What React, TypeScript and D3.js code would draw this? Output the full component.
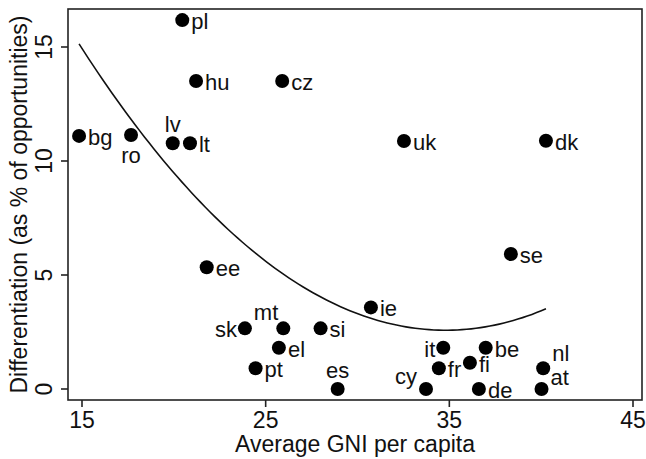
import React from "react";
import * as d3 from "d3";

const countries = ["bg","ro","lv","lt","pl","hu","cz","uk","dk","se","ee","sk","mt","el","pt","si","es","ie","cy","it","fr","fi","be","de","nl","at"];
const gni = [14.84,17.67,19.94,20.88,20.46,21.21,25.9,32.53,40.26,38.35,21.79,23.87,25.96,25.72,24.45,27.99,28.92,30.73,33.73,34.67,34.43,36.12,36.98,36.61,40.11,40.02];
const diff = [11.1,11.14,10.78,10.78,16.18,13.51,13.51,10.88,10.89,5.92,5.34,2.66,2.66,1.81,0.91,2.66,0,3.58,0,1.81,0.91,1.15,1.81,0,0.91,0];
const labelClock = [3,6,12,3,3,3,3,3,3,3,3,9,11,3,3,3,12,3,10,9,3,3,3,3,1,2];
const xTicks = [15,25,35,45];
const yTicks = [0,5,10,15];
const xTitle = "Average GNI per capita";
const yTitle = "Differentiation (as % of opportunities)";

function quadFit(xs: number[], ys: number[]) {
  // OLS y = b0 + b1 x + b2 x^2
  const n = xs.length;
  let s = [0, 0, 0, 0, 0];
  let t = [0, 0, 0];
  for (let i = 0; i < n; i++) {
    const x = xs[i], y = ys[i];
    for (let k = 0; k < 5; k++) s[k] += Math.pow(x, k);
    for (let k = 0; k < 3; k++) t[k] += y * Math.pow(x, k);
  }
  const A = [
    [s[0], s[1], s[2], t[0]],
    [s[1], s[2], s[3], t[1]],
    [s[2], s[3], s[4], t[2]],
  ];
  for (let c = 0; c < 3; c++) {
    let p = c;
    for (let r = c + 1; r < 3; r++) if (Math.abs(A[r][c]) > Math.abs(A[p][c])) p = r;
    [A[c], A[p]] = [A[p], A[c]];
    for (let r = 0; r < 3; r++) {
      if (r === c) continue;
      const f = A[r][c] / A[c][c];
      for (let k = c; k < 4; k++) A[r][k] -= f * A[c][k];
    }
  }
  return [A[0][3] / A[0][0], A[1][3] / A[1][1], A[2][3] / A[2][2]];
}

const W = 646, H = 459;
const L = 68, R = 642, T = 9, B = 400;

export default function App() {
  const x = d3.scaleLinear().domain([15, 45]).range([82, 633]);
  const y = d3.scaleLinear().domain([0, 15]).range([389, 47]);
  const [b0, b1, b2] = quadFit(gni, diff);
  const [xmin, xmax] = d3.extent(gni) as [number, number];
  const fitPts = d3.range(0, 101).map((i) => {
    const xv = xmin + ((xmax - xmin) * i) / 100;
    return [xv, b0 + b1 * xv + b2 * xv * xv] as [number, number];
  });
  const line = d3.line<[number, number]>().x((d) => x(d[0])).y((d) => y(d[1]));
  const font = "'Liberation Sans', Arial, Helvetica, sans-serif";
  const lab = (clock: number) => {
    switch (clock) {
      case 6: return { a: "middle", dx: 0, dy: 28 };
      case 12: return { a: "middle", dx: 0, dy: -11 };
      case 11: return { a: "end", dx: -5, dy: -8 };
      case 9: return { a: "end", dx: -8, dy: 9 };
      case 10: return { a: "end", dx: -9, dy: -5 };
      case 1: return { a: "start", dx: 9, dy: -7 };
      case 2: return { a: "start", dx: 9, dy: -4 };
      default: return { a: "start", dx: 9, dy: 9 };
    }
  };
  return (
    <svg width={W} height={H} style={{ position: "absolute", left: 0, top: 0, background: "#fff" }} fontFamily={font}>
      <rect x={0} y={0} width={W} height={H} fill="#fff" />
      <rect x={L} y={T} width={R - L} height={B - T} fill="none" stroke="#222" strokeWidth={1.6} />
      {xTicks.map((t) => (
        <g key={"x" + t}>
          <line x1={x(t)} x2={x(t)} y1={B} y2={B + 7} stroke="#222" strokeWidth={1.6} />
          <text x={x(t)} y={428} textAnchor="middle" fontSize={23} fill="#111">{t}</text>
        </g>
      ))}
      {yTicks.map((t) => (
        <g key={"y" + t}>
          <line x1={L - 7} x2={L} y1={y(t)} y2={y(t)} stroke="#222" strokeWidth={1.6} />
          <text transform={`translate(52,${y(t)}) rotate(-90)`} textAnchor="middle" fontSize={23} fill="#111">{t}</text>
        </g>
      ))}
      <text x={(L + R) / 2} y={452} textAnchor="middle" fontSize={23} fill="#111">{xTitle}</text>
      <text transform={`translate(27,${(T + B) / 2}) rotate(-90)`} textAnchor="middle" fontSize={23} fill="#111">{yTitle}</text>
      <path d={line(fitPts) || ""} fill="none" stroke="#111" strokeWidth={1.6} />
      {countries.map((c, i) => {
        const cx = x(gni[i]), cy = y(diff[i]);
        const p = lab(labelClock[i]);
        return (
          <g key={c}>
            <circle cx={cx} cy={cy} r={7} fill="#000" />
            <text x={cx + p.dx} y={cy + p.dy} textAnchor={p.a as any} fontSize={22} fill="#111">{c}</text>
          </g>
        );
      })}
    </svg>
  );
}
